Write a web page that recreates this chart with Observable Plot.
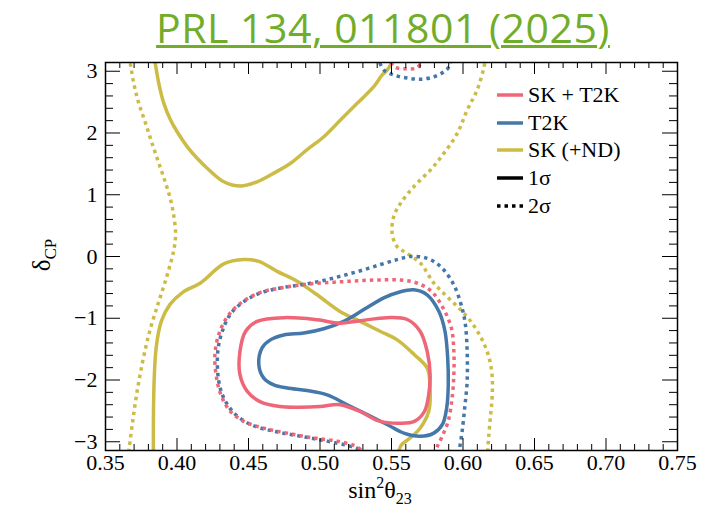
<!DOCTYPE html>
<html><head><meta charset="utf-8">
<script src="https://cdn.jsdelivr.net/npm/d3@7"></script>
<script src="https://cdn.jsdelivr.net/npm/@observablehq/plot@0.6"></script>
<style>
body{margin:0;background:#fff;width:717px;height:518px;overflow:hidden;position:relative}
#title{height:52px;margin:0;padding-left:49px;font-family:"Open Sans",sans-serif;font-size:41px;line-height:55px;letter-spacing:0.5px;color:#72ad2a;text-align:center;text-decoration:underline;text-decoration-thickness:3px;text-underline-offset:2px;white-space:nowrap}
#legend{position:absolute;left:497px;top:81px;font-family:"Liberation Serif","Times New Roman","DejaVu Serif",serif;font-size:22px;color:#000}
.row{height:27.75px;display:flex;align-items:center}
.row svg{margin-right:5px}
</style></head><body>
<div id="title">PRL 134, 011801 (2025)</div>
<div id="chart"></div>
<div id="legend"></div>
<script>
// ---- data (sin^2 theta23, delta_CP) ----
const skt2k_1s = [[0.456,-1.05],[0.475,-0.99],[0.498,-1.025],[0.514,-1.08],[0.528,-1.04],[0.547,-0.99],[0.561,-1.02],[0.570,-1.21],[0.575,-1.54],[0.577,-1.91],[0.576,-2.24],[0.573,-2.51],[0.566,-2.67],[0.556,-2.70],[0.542,-2.67],[0.528,-2.51],[0.514,-2.40],[0.500,-2.43],[0.486,-2.44],[0.472,-2.43],[0.458,-2.35],[0.449,-2.18],[0.444,-1.91],[0.444,-1.54],[0.448,-1.21]];
const skt2k_2s = [[0.529,-3.25],[0.5283,-3.13],[0.5236,-3.06],[0.5120,-2.99],[0.4957,-2.94],[0.4770,-2.86],[0.4607,-2.78],[0.4467,-2.67],[0.4374,-2.51],[0.4316,-2.29],[0.4281,-2.02],[0.4265,-1.59],[0.4300,-1.21],[0.4370,-0.92],[0.4467,-0.72],[0.4584,-0.58],[0.4723,-0.51],[0.4863,-0.46],[0.5003,-0.43],[0.5143,-0.41],[0.5283,-0.39],[0.5423,-0.38],[0.5563,-0.38],[0.5679,-0.43],[0.5782,-0.57],[0.5862,-0.84],[0.5919,-1.16],[0.5936,-1.54],[0.5936,-1.91],[0.5924,-2.29],[0.5896,-2.67],[0.5849,-2.94],[0.5816,-3.10],[0.580,-3.25]];
const skt2k_2s_top = [[0.547,3.25],[0.552,3.07],[0.560,3.04],[0.568,3.06],[0.573,3.25]];
const t2k_1s = [[0.4572,-1.75],[0.4595,-1.48],[0.4653,-1.35],[0.4747,-1.27],[0.4887,-1.24],[0.5026,-1.17],[0.5166,-1.05],[0.5306,-0.86],[0.5446,-0.67],[0.5563,-0.57],[0.5656,-0.54],[0.5749,-0.62],[0.5832,-0.89],[0.5874,-1.21],[0.5893,-1.65],[0.5897,-2.08],[0.5886,-2.45],[0.5856,-2.72],[0.5796,-2.86],[0.5702,-2.91],[0.5586,-2.86],[0.5469,-2.72],[0.5330,-2.56],[0.5190,-2.40],[0.5050,-2.24],[0.4910,-2.17],[0.4770,-2.13],[0.4677,-2.08],[0.4607,-1.97]];
const t2k_2s = [[0.5275,-3.25],[0.5271,-3.13],[0.5190,-3.06],[0.5050,-2.99],[0.4863,-2.91],[0.4677,-2.83],[0.4514,-2.72],[0.4397,-2.53],[0.4327,-2.29],[0.4292,-2.02],[0.4285,-1.54],[0.4320,-1.19],[0.4378,-0.92],[0.4467,-0.73],[0.4584,-0.59],[0.4723,-0.51],[0.4863,-0.46],[0.5003,-0.40],[0.5143,-0.32],[0.5283,-0.23],[0.5423,-0.13],[0.5539,-0.05],[0.5633,0.00],[0.5749,-0.03],[0.5842,-0.16],[0.5936,-0.46],[0.5994,-0.84],[0.6017,-1.11],[0.6029,-1.54],[0.6029,-2.02],[0.6012,-2.45],[0.5994,-2.83],[0.5977,-3.10],[0.597,-3.25]];
const t2k_2s_top = [[0.540,3.25],[0.5446,3.02],[0.5516,2.94],[0.5609,2.89],[0.5703,2.87],[0.5796,2.91],[0.5866,2.99],[0.5901,3.07],[0.592,3.25]];
const sk_1s_upper = [[0.384,3.25],[0.3873,2.80],[0.3908,2.48],[0.3955,2.21],[0.4001,2.02],[0.4071,1.78],[0.4141,1.59],[0.4211,1.43],[0.4327,1.21],[0.4444,1.14],[0.4561,1.21],[0.4677,1.35],[0.4794,1.51],[0.4910,1.73],[0.5027,1.94],[0.5143,2.21],[0.5260,2.48],[0.5376,2.75],[0.5435,2.94],[0.5470,3.02],[0.553,3.25]];
const sk_1s_lower = [[0.3835,-3.25],[0.3835,-2.67],[0.3840,-2.02],[0.3855,-1.46],[0.389,-1.05],[0.395,-0.78],[0.404,-0.58],[0.4164,-0.43],[0.4327,-0.12],[0.4467,-0.05],[0.4572,-0.08],[0.470,-0.24],[0.484,-0.40],[0.498,-0.62],[0.514,-0.89],[0.528,-1.05],[0.542,-1.21],[0.554,-1.35],[0.566,-1.59],[0.575,-1.81],[0.577,-2.13],[0.576,-2.51],[0.570,-2.78],[0.563,-2.94],[0.557,-3.05],[0.554,-3.25]];
const sk_2s_left = [[0.3665,3.25],[0.3698,2.80],[0.3733,2.48],[0.3780,2.16],[0.3826,1.83],[0.3873,1.51],[0.3920,1.19],[0.3955,0.92],[0.3978,0.65],[0.3990,0.38],[0.3982,0.16],[0.3962,-0.05],[0.3925,-0.35],[0.3870,-0.75],[0.3810,-1.20],[0.3760,-1.70],[0.3720,-2.20],[0.3690,-2.67],[0.3665,-3.12],[0.366,-3.25]];
const sk_2s_right = [[0.616,3.25],[0.6145,3.05],[0.6099,2.70],[0.6029,2.37],[0.5959,1.99],[0.5866,1.67],[0.5772,1.40],[0.5656,1.13],[0.5563,0.86],[0.5516,0.65],[0.5504,0.38],[0.5539,0.16],[0.5609,0.05],[0.5703,-0.11],[0.5796,-0.43],[0.5889,-0.65],[0.5982,-0.86],[0.6064,-1.08],[0.6134,-1.35],[0.6180,-1.62],[0.6204,-1.94],[0.6204,-2.27],[0.6192,-2.59],[0.6180,-2.91],[0.6173,-3.13],[0.617,-3.25]];

const xMajor = [0.35,0.40,0.45,0.50,0.55,0.60,0.65,0.70,0.75];
const yMajor = [-3,-2,-1,0,1,2,3];
const legendItems = [["SK + T2K","#EE6677",false],["T2K","#4477AA",false],["SK (+ND)","#CCBB44",false],["1σ","#000",false],["2σ","#000",true]];

const RED="#EE6677", BLUE="#4477AA", YEL="#CCBB44";
const DASH="3.5,4";
const SERIF="'Liberation Serif','Times New Roman','DejaVu Serif',serif";
const contours = [
  {pts: sk_2s_left, color: YEL, dash: true, closed: false},
  {pts: sk_2s_right, color: YEL, dash: true, closed: false},
  {pts: sk_1s_upper, color: YEL, dash: false, closed: false},
  {pts: sk_1s_lower, color: YEL, dash: false, closed: false},
  {pts: t2k_2s, color: BLUE, dash: true, closed: false},
  {pts: t2k_2s_top, color: BLUE, dash: true, closed: false},
  {pts: skt2k_2s, color: RED, dash: true, closed: false},
  {pts: skt2k_2s_top, color: RED, dash: true, closed: false},
  {pts: t2k_1s, color: BLUE, dash: false, closed: true},
  {pts: skt2k_1s, color: RED, dash: false, closed: true}
];

// ---- layout ----
const W=717, H=466, mt=10, mb=68, ml=105, mr=40;
const xDomain=[0.35,0.75], yDomain=[-Math.PI, Math.PI];
const kx=(W-ml-mr)/(xDomain[1]-xDomain[0]);
const ky=(H-mt-mb)/(yDomain[1]-yDomain[0]);
const xMinor=d3.range(35,76).filter(i=>i%5!==0).map(i=>i/100);
const yMinor=d3.range(-15,16).filter(i=>i%5!==0).map(i=>i/5);

const tickMarks = [];
const addX = (arr,len)=>{
  tickMarks.push(Plot.ruleX(arr,{x:d=>d,y1:yDomain[0],y2:yDomain[0]+len/ky,stroke:"#000",strokeWidth:1}));
  tickMarks.push(Plot.ruleX(arr,{x:d=>d,y1:yDomain[1],y2:yDomain[1]-len/ky,stroke:"#000",strokeWidth:1}));
};
const addY = (arr,len)=>{
  tickMarks.push(Plot.ruleY(arr,{y:d=>d,x1:xDomain[0],x2:xDomain[0]+len/kx,stroke:"#000",strokeWidth:1}));
  tickMarks.push(Plot.ruleY(arr,{y:d=>d,x1:xDomain[1],x2:xDomain[1]-len/kx,stroke:"#000",strokeWidth:1}));
};
addX(xMajor,12); addX(xMinor,6); addY(yMajor,15); addY(yMinor,8);

const plot = Plot.plot({
  width: W, height: H, marginTop: mt, marginBottom: mb, marginLeft: ml, marginRight: mr,
  x: {domain: xDomain}, y: {domain: yDomain},
  style: {fontFamily: SERIF, fontSize: "22px", color: "#000", background: "#fff"},
  marks: [
    ...contours.map(c => Plot.line(c.pts, {x: d=>d[0], y: d=>d[1], stroke: c.color, strokeWidth: 3.5,
      strokeDasharray: c.dash ? DASH : undefined, strokeLinecap: "butt",
      curve: c.closed ? "catmull-rom-closed" : "catmull-rom", clip: true})),
    ...tickMarks,
    Plot.frame({stroke: "#000", strokeWidth: 1.5}),
    Plot.axisX({ticks: xMajor, tickSize: 0, tickPadding: 4, tickFormat: d3.format(".2f"), label: null, fontFamily: SERIF, fontSize: 22}),
    Plot.axisY({ticks: yMajor, tickSize: 0, tickPadding: 8, tickFormat: d3.format("d"), label: null, fontFamily: SERIF, fontSize: 22})
  ]
});
document.getElementById("chart").appendChild(plot);

// axis titles with sub/superscripts
const svg = d3.select(plot);
const xl = svg.append("text").attr("x", 380).attr("y", 446).attr("text-anchor","middle")
  .style("font-family",SERIF).style("font-size","24px").attr("fill","#000");
xl.append("tspan").text("sin");
xl.append("tspan").attr("dy",-10).style("font-size","16px").text("2");
xl.append("tspan").attr("dy",10).text("θ");
xl.append("tspan").attr("dy",6).style("font-size","16px").text("23");
const yl = svg.append("text").attr("transform","translate(50,203) rotate(-90)").attr("text-anchor","middle")
  .style("font-family",SERIF).style("font-size","25px").attr("fill","#000");
yl.append("tspan").text("δ");
yl.append("tspan").attr("dy",6).style("font-size","17px").text("CP");

// legend
const lg = d3.select("#legend");
legendItems.forEach(([label,color,dash])=>{
  const r = lg.append("div").attr("class","row");
  const s = r.append("svg").attr("width",26).attr("height",8);
  s.append("line").attr("x1",0).attr("x2",26).attr("y1",4).attr("y2",4).attr("stroke",color)
   .attr("stroke-width",3.5).attr("stroke-dasharray",dash?DASH:null);
  r.append("span").text(label);
});
</script>
</body></html>
